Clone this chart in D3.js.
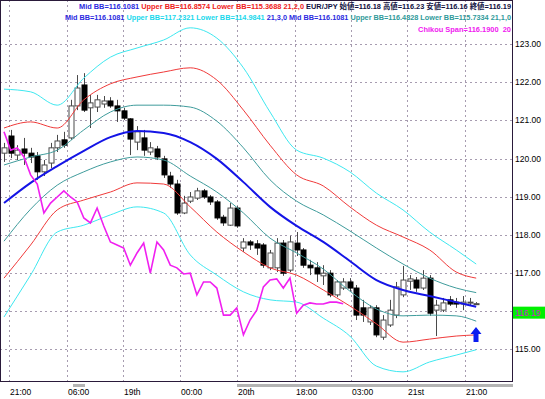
<!DOCTYPE html>
<html>
<head>
<meta charset="utf-8">
<script src="https://cdnjs.cloudflare.com/ajax/libs/d3/7.8.5/d3.min.js"></script>
<style>
  body { margin: 0; background: #fff; }
  svg { display: block; }
</style>
</head>
<body>
<svg id="lienzo" width="545" height="399"></svg>
<script>
// EUR/JPY candles (open / high / low / close)
const opens = [120.14,120.59,120.09,120.25,120.14,120.07,119.65,119.88,120.28,120.49,
  120.54,121.38,121.93,121.33,121.35,121.43,121.51,121.38,121.25,121.04,
  120.43,120.54,120.17,120.25,119.99,119.54,119.33,118.57,118.88,118.96,
  119.15,118.99,118.86,118.46,118.25,118.70,117.65,117.81,117.76,117.73,
  117.13,117.13,117.78,117.07,117.78,117.60,117.20,117.13,116.92,116.99,
  116.42,116.60,116.76,116.60,116.08,115.71,116.08,115.31,115.63,115.89,
  116.42,116.78,116.81,116.60,116.86,116.02,116.02,116.29,116.23,116.18,
  116.21,116.18];
const highs = [120.41,120.75,120.35,120.54,120.28,120.17,119.96,120.41,120.62,120.70,
  121.54,122.19,122.24,121.67,121.67,121.64,121.61,121.54,121.33,121.06,
  120.85,120.75,120.43,120.33,120.07,119.65,119.44,119.02,119.12,119.23,
  119.20,119.04,118.91,118.52,118.83,118.75,117.91,117.86,117.86,117.78,
  117.60,117.91,117.86,117.97,118.07,117.65,117.34,117.28,117.20,117.07,
  116.81,116.86,116.86,116.68,116.29,116.15,116.15,115.89,116.29,116.76,
  117.18,116.94,116.89,117.07,116.94,116.29,116.34,116.39,116.34,116.39,
  116.34,116.23];
const lows = [119.91,120.01,119.96,119.83,119.88,119.44,119.54,119.75,120.17,120.28,
  120.49,121.27,121.22,120.80,121.22,121.33,121.33,120.96,121.01,120.09,
  120.22,120.07,120.09,119.96,119.49,119.23,118.52,118.54,118.83,118.91,
  118.94,118.78,118.39,118.23,118.23,118.18,117.55,117.60,117.47,117.13,
  117.07,117.02,116.92,117.02,117.44,117.13,116.94,116.76,116.68,116.36,
  116.36,116.55,116.50,115.76,115.71,115.63,115.31,115.24,115.58,115.81,
  116.36,116.55,116.50,116.55,115.87,115.34,115.97,116.13,116.08,116.02,
  116.13,116.16];
const closes = [120.28,120.14,120.22,120.14,120.04,119.65,119.83,120.28,120.46,120.35,
  121.38,121.85,121.27,121.46,121.54,121.51,121.38,121.25,121.06,120.51,
  120.70,120.22,120.28,120.04,119.57,119.33,118.57,118.83,118.99,119.15,
  118.99,118.86,118.44,118.31,118.70,118.23,117.81,117.73,117.65,117.20,
  117.52,117.78,116.99,117.81,117.60,117.20,117.13,116.97,116.99,116.42,
  116.76,116.76,116.60,115.89,115.89,116.08,115.37,115.76,116.02,116.63,
  116.81,116.84,116.60,116.86,115.94,116.15,116.21,116.18,116.18,116.23,
  116.23,116.19];

// Bollinger band values read every 4th candle
const bandIdx = [0,4,8,12,16,20,24,28,32,36,40,44,48,52,56,60,64,68,71];
const midBB  = [118.83,119.36,119.80,120.20,120.56,120.72,120.67,120.43,119.99,119.38,118.73,118.23,117.81,117.31,116.81,116.55,116.39,116.23,116.11];
const upper1 = [119.83,120.04,120.22,120.75,121.22,121.40,121.40,121.35,120.98,120.28,119.44,118.88,118.52,118.10,117.65,117.23,116.86,116.60,116.48];
const lower1 = [117.83,118.67,119.30,119.65,119.91,120.04,119.96,119.54,119.12,118.57,117.91,117.52,117.10,116.52,116.05,115.87,115.89,115.87,115.73];
const upper2 = [120.80,120.96,120.80,121.54,121.96,122.14,122.27,122.38,122.06,121.27,120.35,119.57,119.28,118.73,118.25,117.94,117.60,117.02,116.86];
const lower2 = [116.86,117.73,118.65,118.91,119.12,119.36,119.33,118.73,118.07,117.55,117.13,116.94,116.55,116.13,115.66,115.18,115.26,115.34,115.37];
const upper3 = [121.82,121.75,121.40,122.11,122.66,122.90,123.11,123.43,123.16,122.38,121.22,120.22,120.01,119.65,119.09,118.65,118.07,117.60,117.23];
const lower3 = [115.84,116.94,118.07,118.25,118.52,118.73,118.57,117.47,116.94,116.50,116.29,116.23,115.81,115.34,114.55,114.40,114.66,114.84,114.98];

// Chikou span = close shifted 20 bars back
const chikouShift = 20;

const yTicks = [115,116,117,118,119,120,121,122,123];
const xTickPos = [0.75, 9.4, 17.9, 26.5, 35.0, 43.8, 52.1, 60.6, 69.3];
const xTickLabels = ['21:00','06:00','19th','00:00','20th','18:00','03:00','21st','21:00'];

const signalBars = [{i: 71, price: 115.58}];

const svg = d3.select('#lienzo');
const W = 512, H = 381;

const x = d3.scaleLinear().domain([0, 71]).range([4, 476.2]);
const y = d3.scaleLinear().domain([115, 123]).range([349, 44.2]);

svg.append('defs').append('clipPath').attr('id', 'plot')
  .append('rect').attr('x', 0).attr('y', 0).attr('width', W).attr('height', H);

const plot = svg.append('g').attr('clip-path', 'url(#plot)');

// grid
plot.selectAll('line.hgrid')
  .data(yTicks)
  .enter()
  .append('line')
  .attr('x1', 0).attr('x2', W)
  .attr('y1', d => Math.round(y(d)) + 0.5)
  .attr('y2', d => Math.round(y(d)) + 0.5)
  .attr('stroke', '#a79cb0')
  .attr('stroke-dasharray', '2,3');

plot.selectAll('line.vgrid')
  .data(xTickPos)
  .enter()
  .append('line')
  .attr('x1', d => Math.round(x(d)) + 0.5)
  .attr('x2', d => Math.round(x(d)) + 0.5)
  .attr('y1', 0).attr('y2', H)
  .attr('stroke', '#a79cb0')
  .attr('stroke-dasharray', '2,3');

// candles
const candles = plot.selectAll('g.candle')
  .data(d3.range(opens.length))
  .enter()
  .append('g');

candles.append('line')
  .attr('x1', i => Math.round(x(i)) + 0.5)
  .attr('x2', i => Math.round(x(i)) + 0.5)
  .attr('y1', i => y(highs[i]))
  .attr('y2', i => y(lows[i]))
  .attr('stroke', '#4a4a4a');

candles.append('rect')
  .attr('x', i => Math.round(x(i)) - 2)
  .attr('y', i => y(Math.max(opens[i], closes[i])))
  .attr('width', 5)
  .attr('height', i => Math.max(1, Math.abs(y(opens[i]) - y(closes[i]))))
  .attr('fill', i => closes[i] < opens[i] ? '#000' : '#fff')
  .attr('stroke', i => closes[i] < opens[i] ? '#000' : '#4a4a4a')
  .attr('stroke-width', 1);

// bands
const bandLine = d3.line()
  .x((d, k) => x(bandIdx[k]))
  .y(d => y(d))
  .curve(d3.curveMonotoneX);

const bands = [
  {values: upper3, color: '#3ee8f0', width: 1},
  {values: lower3, color: '#3ee8f0', width: 1},
  {values: upper2, color: '#f03a3a', width: 1},
  {values: lower2, color: '#f03a3a', width: 1},
  {values: upper1, color: '#3f9c9c', width: 1},
  {values: lower1, color: '#3f9c9c', width: 1},
  {values: midBB,  color: '#1414e6', width: 2}
];

plot.selectAll('path.band')
  .data(bands)
  .enter()
  .append('path')
  .attr('d', d => bandLine(d.values))
  .attr('fill', 'none')
  .attr('stroke', d => d.color)
  .attr('stroke-width', d => d.width);

// chikou span
const chikou = closes.slice(chikouShift);
plot.append('path')
  .attr('d', d3.line().x((d, i) => x(i)).y(d => y(d))(chikou))
  .attr('fill', 'none')
  .attr('stroke', '#f020f0')
  .attr('stroke-width', 1.6);

// signal arrow
plot.selectAll('path.arrow')
  .data(signalBars)
  .enter()
  .append('path')
  .attr('transform', d => `translate(${Math.round(x(d.i))},${Math.round(y(d.price))})`)
  .attr('d', 'M0,0 L5.5,7 L2.5,7 L2.5,15 L-2.5,15 L-2.5,7 L-5.5,7 Z')
  .attr('fill', '#0a1cf0');

// frame
svg.append('rect')
  .attr('x', 0.5).attr('y', 0.5)
  .attr('width', W).attr('height', H)
  .attr('fill', 'none')
  .attr('stroke', '#2a1a3a');

// scroll strips under the chart
svg.append('rect').attr('x', 237).attr('y', 384).attr('width', 276).attr('height', 3).attr('fill', '#b4b4b4');
svg.append('rect').attr('x', 73).attr('y', 384).attr('width', 12).attr('height', 3).attr('fill', '#b4b4b4');

const font = '"Liberation Sans", Arial, "Noto Sans CJK JP", sans-serif';

// price axis
svg.selectAll('text.ylab')
  .data(yTicks)
  .enter()
  .append('text')
  .attr('x', 515)
  .attr('y', d => y(d))
  .attr('dominant-baseline', 'central')
  .attr('font-family', font)
  .attr('font-size', '8.5px')
  .attr('fill', '#000')
  .text(d => d.toFixed(2));

// last price tag (drawn over the 116.00 label, as in the terminal)
const lastClose = closes[closes.length - 1];
svg.append('rect')
  .attr('x', 513).attr('y', y(lastClose) + 3)
  .attr('width', 32).attr('height', 12)
  .attr('fill', '#00f000');
svg.append('text')
  .attr('x', 515).attr('y', y(lastClose) + 9)
  .attr('dominant-baseline', 'central')
  .attr('font-family', font)
  .attr('font-size', '8.5px')
  .attr('fill', '#d020d0')
  .text(lastClose.toFixed(2));

// time axis
svg.selectAll('text.xlab')
  .data(xTickPos)
  .enter()
  .append('text')
  .attr('x', d => Math.round(x(d)) + 1)
  .attr('y', 392)
  .attr('dominant-baseline', 'central')
  .attr('font-family', font)
  .attr('font-size', '8.5px')
  .attr('fill', '#000')
  .text((d, i) => xTickLabels[i]);

// indicator legends (right aligned inside the chart)
const blue = '#2a2ae0', red = '#f02020', cyan = '#18d8ec', teal = '#2f9a9a', navy = '#101040', pink = '#f020f0';
const legendLines = [
  {y: 6, len: 432, parts: [
    ['Mid BB=116.1081 ', blue], ['Upper BB=116.8574 ', red], ['Lower BB=115.3688 ', red],
    ['21,2,0 ', red], ['EUR/JPY 始値=116.18 高値=116.23 安値=116.16 終値=116.19', navy]]},
  {y: 17, len: 446, parts: [
    ['Mid BB=116.1081 ', blue], ['Upper BB=117.2321 ', cyan], ['Lower BB=114.9841 ', cyan],
    ['21,3,0 ', blue], ['Mid BB=116.1081 ', blue], ['Upper BB=116.4828 ', teal],
    ['Lower BB=115.7334 ', teal], ['21,1,0', teal]]},
  {y: 29, len: 93, parts: [['Chikou Span=116.1900  20', pink]]}
];

legendLines.forEach(line => {
  const t = svg.append('text')
    .attr('x', 511)
    .attr('y', line.y)
    .attr('text-anchor', 'end')
    .attr('dominant-baseline', 'central')
    .attr('font-family', font)
    .attr('font-size', '7.5px')
    .attr('font-weight', 'bold')
    .attr('textLength', line.len)
    .attr('lengthAdjust', 'spacingAndGlyphs')
    .attr('xml:space', 'preserve');
  line.parts.forEach(p => {
    t.append('tspan').attr('fill', p[1]).text(p[0]);
  });
});
</script>
</body>
</html>
